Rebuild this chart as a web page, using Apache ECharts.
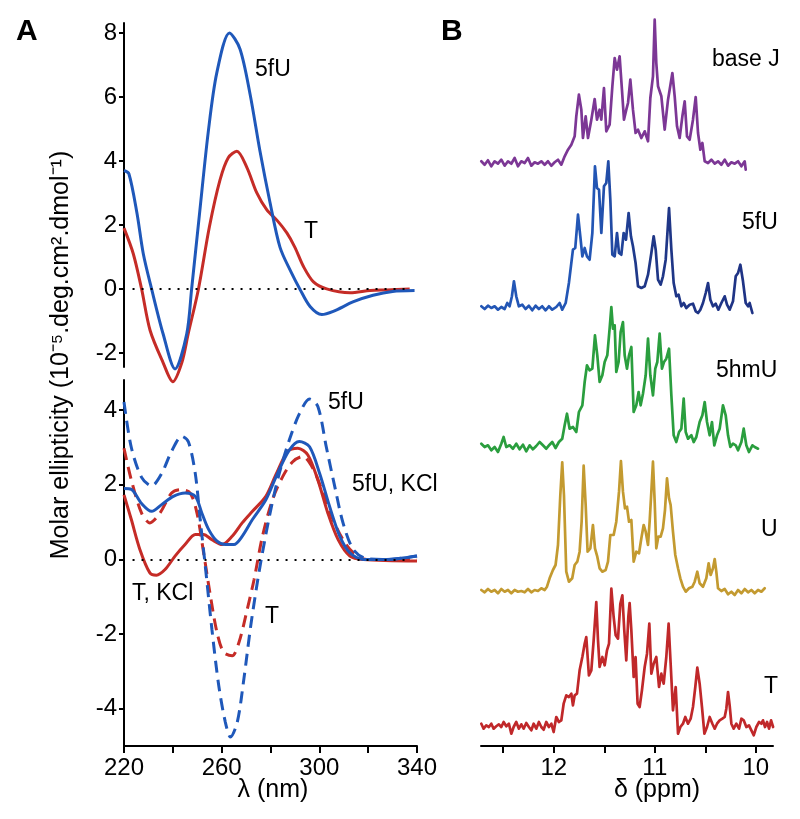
<!DOCTYPE html>
<html>
<head>
<meta charset="utf-8">
<script src="https://cdn.jsdelivr.net/npm/echarts@6/dist/echarts.min.js"></script>
<style>
  html, body { margin: 0; padding: 0; background: #fff; }
  #chart { width: 800px; height: 819px; }
</style>
</head>
<body>
<div id="chart"></div>
<script>
// ---- panel A: CD spectra, [wavelength nm, molar ellipticity x1e-5] ----
var cdTop5fU = [[220,3.7],[222,3.6],[225.3,2.37],[227.9,1.1],[231.3,0],[236,-1.4],[240.9,-2.5],[245.7,-1.4],[247.7,0],[251,2.4],[254.5,4.9],[258,6.75],[263.2,8.0],[267.5,7.5],[271.6,6.1],[275.7,4.3],[279.8,2.7],[283.9,1.3],[288.6,0.5],[292,0],[296.2,-0.55],[301,-0.8],[305.7,-0.7],[314,-0.4],[322,-0.2],[330,-0.08],[339,-0.05]];
var cdTopT = [[220,1.9],[223.8,1.1],[227.2,0],[230.7,-1.3],[236,-2.3],[240,-2.9],[243.7,-2.3],[246.3,-1.4],[250.5,0],[255,1.95],[259.3,3.4],[262.7,4.1],[266.2,4.3],[270.3,3.8],[274.4,3.0],[278.5,2.47],[282.6,2.15],[286.7,1.75],[290,1.3],[293.5,0.7],[297.6,0.22],[303,0],[312.6,-0.12],[320.8,-0.05],[327.6,-0.03],[337,0]];

var cdBot5fU = [[220,4.22],[223,3.0],[227.2,2.2],[231.3,1.97],[235.4,2.3],[239.5,2.9],[243.7,3.3],[246.4,3.15],[249.2,2.3],[251.2,1.07],[253.3,-0.18],[256,-1.87],[258.8,-3.38],[261.5,-4.36],[263.6,-4.76],[266.4,-4.36],[269.1,-3.2],[271.9,-1.78],[274.6,-0.62],[276.7,0.18],[280.1,1.33],[283.6,2.31],[287.7,3.2],[291.8,3.9],[296,4.3],[299.4,4.1],[302.9,3.0],[306.3,1.96],[309.7,0.98],[313.9,0.27],[319.4,0.02],[327.6,0],[340,0.09]];
var cdBot5fUKCl = [[220,1.9],[223,1.88],[227.2,1.5],[231.3,1.29],[235.4,1.47],[240.2,1.69],[245,1.78],[249.2,1.69],[251.9,1.24],[254.7,0.8],[258.1,0.49],[261.5,0.4],[265,0.4],[268.4,0.62],[272.6,1.07],[278.1,1.6],[282.9,2.31],[287.7,2.93],[291.8,3.16],[296,3.02],[300.1,2.31],[304.2,1.42],[308.4,0.62],[312.5,0.18],[318,0],[327.6,0],[340,0.09]];
var cdBotT = [[220,2.98],[223,2.13],[227.2,1.24],[230.6,0.98],[234.7,1.24],[239.5,1.78],[243,1.87],[247.1,1.78],[249.9,1.24],[252.6,0.18],[255.4,-0.98],[258.1,-1.96],[260.8,-2.49],[264.3,-2.58],[267.1,-2.22],[270.5,-1.33],[273.3,-0.53],[276.7,0.62],[280.8,1.6],[285,2.22],[289.1,2.62],[293.2,2.76],[297.4,2.44],[301.5,1.78],[305.6,1.07],[309.7,0.53],[313.9,0.18],[319.4,0],[340,0]];
var cdBotTKCl = [[220,1.73],[223,1.07],[226.5,0.27],[230.6,-0.36],[233.3,-0.42],[236.8,-0.27],[240.9,0.09],[245,0.4],[249.2,0.67],[252.6,0.67],[256,0.53],[260.2,0.4],[264.3,0.62],[268.4,0.98],[272.6,1.29],[278.1,1.69],[282.2,2.27],[287,2.89],[291.2,2.98],[295.3,2.8],[299.4,2.13],[303.5,1.24],[307.7,0.53],[312.5,0.09],[318,0],[340,-0.04]];

var cdTopTicks = [-2, 0, 2, 4, 6, 8];
var cdBotTicks = [-4, -2, 0, 2, 4];

// ---- panel B: imino 1H NMR, [ppm, intensity a.u.] ----
var nmrBaseJ = [[12.717,1.7],[12.684,-1.7],[12.651,2.7],[12.618,-3.3],[12.585,1.7],[12.552,-0.7],[12.519,3.3],[12.486,-2.7],[12.453,1.7],[12.42,-0.7],[12.387,5],[12.354,-3.3],[12.321,1.7],[12.288,0],[12.255,5],[12.222,-2.7],[12.189,0.7],[12.156,-0.7],[12.123,1.7],[12.09,-1.7],[12.057,1.7],[12.024,-2.7],[11.991,0.7],[11.958,3.3],[11.925,-1.7],[11.892,6.7],[11.859,13.3],[11.826,18.3],[11.793,26.7],[11.777,46.7],[11.751,68.3],[11.727,53.3],[11.711,25],[11.684,46.7],[11.661,25],[11.628,43.3],[11.595,64],[11.572,43.3],[11.546,53.3],[11.529,43.3],[11.503,75],[11.48,31.7],[11.447,38.3],[11.42,76.7],[11.397,105],[11.374,93.3],[11.348,106.7],[11.325,73.3],[11.305,43.3],[11.282,53.3],[11.265,60],[11.242,83.3],[11.216,53.3],[11.19,30],[11.166,33.3],[11.133,25],[11.1,31.7],[11.067,21.7],[11.044,65],[11.018,86.7],[11.001,143.3],[10.985,100],[10.968,76.7],[10.935,66.7],[10.902,33.3],[10.869,63.3],[10.826,90],[10.803,66.7],[10.78,36.7],[10.754,25],[10.727,46.7],[10.704,61.7],[10.681,26.7],[10.655,23.3],[10.622,43.3],[10.595,66],[10.572,30],[10.549,13.3],[10.529,20],[10.506,1.7],[10.473,0],[10.44,3.3],[10.407,-0.7],[10.374,1.7],[10.341,-1.7],[10.308,3.3],[10.275,-2.7],[10.242,0.7],[10.209,-0.7],[10.176,1.7],[10.143,-3.3],[10.11,1.7],[10.1,-6.7]];
var nmr5fU = [[12.717,1.7],[12.684,-1],[12.651,2.3],[12.618,0],[12.585,1.7],[12.552,-1.7],[12.519,1],[12.486,-1],[12.46,5],[12.437,1.7],[12.414,11.7],[12.394,26.7],[12.371,11.7],[12.345,1.7],[12.312,3.3],[12.279,-1],[12.246,2.3],[12.213,-2.3],[12.18,2.3],[12.147,-1],[12.114,1.7],[12.081,-2.3],[12.048,1.7],[12.015,-1.7],[11.975,1],[11.942,5],[11.916,-1.7],[11.882,5],[11.85,25],[11.81,58.3],[11.787,60],[11.76,93.3],[11.737,71.7],[11.717,51.7],[11.694,60],[11.671,51.7],[11.645,48.3],[11.618,75],[11.592,141.7],[11.572,120],[11.552,118.3],[11.529,75],[11.503,121.7],[11.48,125],[11.46,146.7],[11.44,108.3],[11.42,53.3],[11.397,51.7],[11.374,75],[11.354,55],[11.331,53.3],[11.308,75],[11.285,68.3],[11.259,95],[11.236,71.7],[11.216,61.7],[11.19,45],[11.166,21.7],[11.133,20],[11.1,21.7],[11.067,33.3],[11.034,55],[11.011,71.7],[10.991,58.3],[10.968,28.3],[10.942,23.3],[10.919,31.7],[10.892,48.3],[10.859,100],[10.836,58.3],[10.813,25],[10.787,11.7],[10.764,13.3],[10.737,1.7],[10.714,5],[10.688,0],[10.655,3.3],[10.622,4.3],[10.595,-3.3],[10.572,-5],[10.549,-1.7],[10.523,5],[10.496,15],[10.473,25],[10.45,8.3],[10.424,1.7],[10.397,4.3],[10.371,-1.7],[10.341,5],[10.308,11.7],[10.285,3.3],[10.259,-1.7],[10.226,6.7],[10.199,31.7],[10.176,35],[10.153,43.3],[10.127,26.7],[10.1,5],[10.077,1.7],[10.061,5],[10.034,-5]];
var nmr5hmU = [[12.717,3.3],[12.684,0],[12.651,1.7],[12.618,-3.3],[12.585,0],[12.552,-5],[12.519,3.3],[12.496,10],[12.47,0],[12.437,1.7],[12.404,-1.7],[12.371,3.3],[12.338,-2.3],[12.305,2.3],[12.272,-4.3],[12.239,1.7],[12.206,-2.3],[12.173,1],[12.14,5],[12.107,1.7],[12.074,-1.7],[12.041,2.3],[12.015,5],[11.982,-1],[11.949,5],[11.916,8.3],[11.892,21.7],[11.869,33.3],[11.843,18.3],[11.81,20],[11.777,15],[11.751,35],[11.717,41.7],[11.694,65],[11.671,81.7],[11.645,76.7],[11.618,78.3],[11.592,111.7],[11.569,91.7],[11.546,65],[11.519,71.7],[11.496,85],[11.47,91.7],[11.447,118.3],[11.43,140],[11.414,118.3],[11.397,121.7],[11.381,75],[11.358,85],[11.338,115],[11.315,125],[11.298,91.7],[11.275,78.3],[11.255,91.7],[11.232,100],[11.209,35],[11.183,41.7],[11.16,55],[11.14,41.7],[11.117,53.3],[11.09,71.7],[11.067,108.3],[11.044,71.7],[11.018,51.7],[10.995,78.3],[10.975,85],[10.952,113.3],[10.929,78.3],[10.909,85],[10.886,88.3],[10.859,98.3],[10.836,51.7],[10.813,11.7],[10.787,5],[10.76,15],[10.737,18.3],[10.714,48.3],[10.694,15],[10.671,8.3],[10.638,11.7],[10.615,5],[10.589,10],[10.556,25],[10.529,31.7],[10.506,45],[10.483,25],[10.457,11.7],[10.434,25],[10.411,1.7],[10.384,11.7],[10.358,18.3],[10.325,41.7],[10.298,31.7],[10.275,11.7],[10.252,0],[10.226,3.3],[10.199,1.7],[10.176,-3.3],[10.143,5],[10.12,18.3],[10.094,1.7],[10.068,-5],[10.034,1.7],[10.011,0],[9.978,-1.7]];
var nmrU = [[12.717,1],[12.684,-1.3],[12.651,2],[12.618,-0.7],[12.585,1],[12.552,-2.3],[12.519,2],[12.486,-0.7],[12.453,1],[12.42,-2.3],[12.387,1],[12.354,-0.7],[12.321,0],[12.288,-1.3],[12.255,2],[12.222,-1.3],[12.189,1],[12.156,0],[12.123,2.7],[12.09,1],[12.067,4.3],[12.041,12.7],[12.008,21],[11.982,26],[11.958,46],[11.935,96],[11.916,128.7],[11.899,96],[11.876,19.3],[11.85,9.3],[11.817,12.7],[11.793,26],[11.767,29.3],[11.744,39.3],[11.724,69.3],[11.704,125.3],[11.684,86],[11.665,39.3],[11.638,42.7],[11.612,66],[11.592,42.7],[11.569,34.3],[11.546,22.7],[11.519,19.3],[11.486,21],[11.463,29.3],[11.44,56],[11.407,56],[11.381,69.3],[11.354,99.3],[11.335,130],[11.315,99.3],[11.295,82.7],[11.275,84.3],[11.255,69.3],[11.232,71],[11.209,29.3],[11.183,39.3],[11.156,37.7],[11.133,52.7],[11.11,66],[11.09,59.3],[11.067,46],[11.051,69.3],[11.034,99.3],[11.018,129.3],[11.001,89.3],[10.985,42.7],[10.965,54.3],[10.942,54.3],[10.919,62.7],[10.899,81],[10.879,112.7],[10.859,92.7],[10.843,86],[10.82,59.3],[10.797,36],[10.77,22.7],[10.747,12.7],[10.721,4.3],[10.694,-0.7],[10.661,2.7],[10.628,4.3],[10.605,9.3],[10.579,19.3],[10.556,7.7],[10.523,4.3],[10.49,12.7],[10.467,27.7],[10.447,16],[10.424,22.7],[10.407,32],[10.391,19.3],[10.374,2.7],[10.341,0],[10.308,2],[10.275,-3.3],[10.242,-0.7],[10.209,-4],[10.176,1],[10.143,-2.3],[10.11,2],[10.077,-1.3],[10.044,1],[10.011,-2.3],[9.978,1],[9.945,-0.7],[9.912,2.7]];
var nmrT = [[12.717,3.3],[12.694,-1.7],[12.668,1.7],[12.642,0],[12.618,3.3],[12.595,-1.7],[12.569,0.7],[12.543,2.7],[12.519,0],[12.496,5],[12.47,0.7],[12.444,3.3],[12.42,-6.7],[12.397,0],[12.371,5],[12.345,-1.7],[12.321,2.7],[12.298,-1.7],[12.272,4],[12.246,0],[12.222,-3.3],[12.199,3.3],[12.173,-1.7],[12.147,5],[12.123,0],[12.1,-2.7],[12.074,5],[12.048,0],[12.024,3.3],[12.001,-5],[11.975,10],[11.949,5],[11.925,6.7],[11.902,23.3],[11.876,31.7],[11.85,30],[11.826,33.3],[11.81,21.7],[11.793,31.7],[11.77,33.3],[11.744,56.7],[11.717,70],[11.694,83.3],[11.678,90],[11.652,51.7],[11.628,56.7],[11.605,86.7],[11.579,125],[11.562,86.7],[11.546,60],[11.519,70],[11.496,61.7],[11.473,76.7],[11.453,83.3],[11.43,138.3],[11.407,110],[11.387,91.7],[11.364,88.3],[11.341,123.3],[11.321,131.7],[11.302,96.7],[11.282,66.7],[11.262,110],[11.249,124],[11.232,96.7],[11.209,50],[11.19,70],[11.17,23.3],[11.15,20],[11.127,36.7],[11.1,60],[11.077,73.3],[11.054,103.3],[11.034,53.3],[11.011,63.3],[10.985,70],[10.958,40],[10.935,53.3],[10.912,43.3],[10.886,70],[10.863,103.3],[10.843,63.3],[10.82,16.7],[10.793,40],[10.77,-6.7],[10.747,0],[10.721,3.3],[10.698,10],[10.671,3.3],[10.645,8.3],[10.622,20],[10.599,40],[10.579,59.3],[10.556,43.3],[10.533,20],[10.509,-6.7],[10.483,0],[10.457,10],[10.43,3.3],[10.407,-1.7],[10.384,3.3],[10.358,6.7],[10.331,8.3],[10.308,10],[10.292,18.3],[10.275,35],[10.259,21.7],[10.242,3.3],[10.219,-1.7],[10.193,3.3],[10.166,-1.7],[10.143,8.3],[10.12,6.7],[10.094,0],[10.068,1.7],[10.044,-3.3],[10.021,-8.3],[9.995,0],[9.968,5],[9.945,3.3],[9.929,6.7],[9.909,0],[9.889,5],[9.869,-1.7],[9.849,6.7],[9.829,0]];

var nmrNames = ["base J", "5fU", "5hmU", "U", "T"];
var nmrTraces = [nmrBaseJ, nmr5fU, nmr5hmU, nmrU, nmrT];
var nmrOffsets = [583, 438, 299, 155, 19];
var nmrPpmTicks = [10, 10.5, 11, 11.5, 12, 12.5];
var nmrPpmLabels = [10, 11, 12];

var FONT = "'Liberation Sans', Arial, Helvetica, sans-serif";
var BLUE = "#1f58ba";
var RED = "#c52c27";

var dom = document.getElementById("chart");
var chart = echarts.init(dom, null, { renderer: "canvas" });

function axisStyle() {
  return {
    axisLine: { show: true, onZero: false, lineStyle: { color: "#000", width: 2 } },
    splitLine: { show: false }
  };
}

function txt(str, x, y, size, align, extra) {
  var el = {
    type: "text",
    x: x,
    y: y,
    style: {
      text: str,
      font: (extra && extra.bold ? "bold " : "") + size + "px " + FONT,
      fill: "#000",
      align: align || "left",
      verticalAlign: "middle"
    }
  };
  if (extra && extra.rotation) el.rotation = extra.rotation;
  return el;
}

var zeroLine = {
  silent: true,
  symbol: ["none", "none"],
  label: { show: false },
  lineStyle: { color: "#000", type: [2, 7], width: 2 },
  data: [[{ coord: [223.5, 0] }, { coord: [337, 0] }]]
};

function cdSeries(data, xi, yi, color, dashed, mark) {
  var s = {
    type: "line",
    xAxisIndex: xi,
    yAxisIndex: yi,
    data: data,
    showSymbol: false,
    smooth: 0.3,
    clip: false,
    lineStyle: { color: color, width: 3, type: dashed ? [12, 7] : "solid" },
    z: 3
  };
  if (mark) s.markLine = zeroLine;
  return s;
}

var nmrColors = [
  "#7c3795",
  new echarts.graphic.LinearGradient(0, 0, 1, 0, [
    { offset: 0, color: "#2356b5" },
    { offset: 0.42, color: "#2356b5" },
    { offset: 0.58, color: "#1f3787" },
    { offset: 1, color: "#1f3385" }
  ]),
  "#2a9e3e",
  "#c39a30",
  "#c0282a"
];

var series = [];
series.push(cdSeries(cdTopT, 0, 0, RED, false, true));
series.push(cdSeries(cdTop5fU, 0, 0, BLUE, false, false));
series.push(cdSeries(cdBotTKCl, 1, 1, RED, false, true));
series.push(cdSeries(cdBotT, 1, 1, RED, true, false));
series.push(cdSeries(cdBot5fUKCl, 1, 1, BLUE, false, false));
series.push(cdSeries(cdBot5fU, 1, 1, BLUE, true, false));

for (var i = 0; i < nmrTraces.length; i++) {
  var off = nmrOffsets[i];
  series.push({
    name: nmrNames[i],
    type: "line",
    xAxisIndex: 2,
    yAxisIndex: 2,
    data: nmrTraces[i].map(function (p) { return [p[0], p[1] + off]; }),
    showSymbol: false,
    clip: false,
    lineStyle: { color: nmrColors[i], width: 2.7, join: "round", cap: "round" },
    z: 3
  });
}

var option = {
  animation: false,
  backgroundColor: "#fff",
  textStyle: { fontFamily: FONT },
  grid: [
    { left: 124, top: 23, width: 293, height: 344 },
    { left: 124, top: 380, width: 293, height: 366 },
    { left: 481, top: 0, width: 292, height: 746 }
  ],
  xAxis: [
    { type: "value", gridIndex: 0, min: 220, max: 340, show: false },
    Object.assign(axisStyle(), {
      type: "value",
      gridIndex: 1,
      min: 220,
      max: 340,
      interval: 20,
      axisTick: { show: true, length: 7, lineStyle: { color: "#000", width: 2 } },
      axisLabel: {
        color: "#000",
        fontSize: 24,
        margin: 10,
        formatter: function (v) { return (v - 220) % 40 === 0 ? String(v) : ""; }
      }
    }),
    Object.assign(axisStyle(), {
      type: "value",
      gridIndex: 2,
      inverse: true,
      min: 9.83,
      max: 12.72,
      axisTick: { show: true, length: 7, customValues: nmrPpmTicks, lineStyle: { color: "#000", width: 2 } },
      axisLabel: { color: "#000", fontSize: 24, margin: 10, customValues: nmrPpmLabels }
    })
  ],
  yAxis: [
    Object.assign(axisStyle(), {
      type: "value",
      gridIndex: 0,
      min: -2.44,
      max: 8.31,
      axisTick: { show: true, length: 5, customValues: cdTopTicks, lineStyle: { color: "#000", width: 2 } },
      axisLabel: { color: "#000", fontSize: 24, margin: 7, customValues: cdTopTicks }
    }),
    Object.assign(axisStyle(), {
      type: "value",
      gridIndex: 1,
      min: -5,
      max: 4.81,
      axisTick: { show: true, length: 5, customValues: cdBotTicks, lineStyle: { color: "#000", width: 2 } },
      axisLabel: { color: "#000", fontSize: 24, margin: 7, customValues: cdBotTicks }
    }),
    { type: "value", gridIndex: 2, min: 0, max: 746, show: false }
  ],
  graphic: [
    txt("A", 16, 32, 30, "left", { bold: true }),
    txt("B", 441, 32, 30, "left", { bold: true }),
    txt("Molar ellipticity (10\u207B\u2075.deg.cm\u00B2.dmol\u207B\u00B9)", 61, 355, 25, "center", { rotation: Math.PI / 2 }),
    txt("\u03BB (nm)", 273, 790, 25, "center"),
    txt("\u03B4 (ppm)", 657, 790, 25, "center"),
    // panel A curve labels
    txt("5fU", 255, 70, 23),
    txt("T", 304, 232, 23),
    txt("5fU", 328, 403, 23),
    txt("5fU, KCl", 352, 485, 23),
    txt("T, KCl", 132, 594, 23),
    txt("T", 265, 617, 23),
    // panel B trace labels
    txt("base J", 712, 60, 23),
    txt("5fU", 742, 223, 23),
    txt("5hmU", 716, 371, 23),
    txt("U", 761, 530, 23),
    txt("T", 764, 687, 23)
  ],
  series: series
};

chart.setOption(option);
window.addEventListener("resize", function () { chart.resize(); });
</script>
</body>
</html>
